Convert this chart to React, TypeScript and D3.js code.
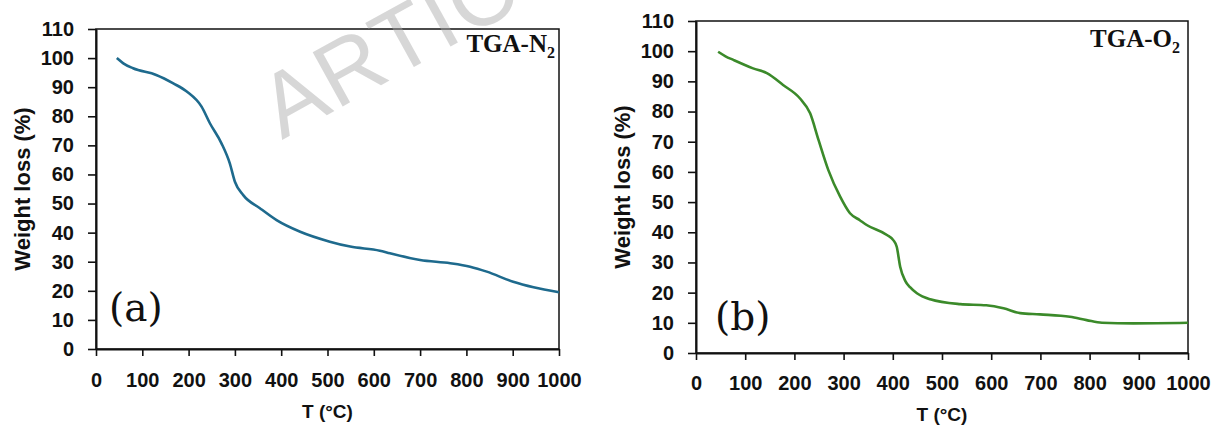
import { useEffect, useRef } from "react";
import * as d3 from "d3";

// TGA in N2 (panel a)
const tempN2 = [45, 59, 80, 130, 167, 196, 228, 246, 271, 289, 300, 318, 354, 390, 441, 505, 549, 613, 635, 700, 765, 808, 844, 901, 945, 1000];
const weightN2 = [100, 98.2, 96.5, 94.2, 91.3, 88.5, 83.3, 77.6, 70.7, 63.8, 57.5, 52.9, 48.4, 44.3, 40.3, 36.9, 35.2, 33.8, 32.9, 30.6, 29.5, 28.3, 26.6, 23.1, 21.2, 19.5];

// TGA in O2 (panel b)
const tempO2 = [45, 60, 76, 116, 144, 177, 211, 232, 249, 269, 293, 313, 333, 347, 388, 401, 408, 415, 425, 435, 449, 476, 537, 590, 625, 659, 699, 760, 794, 825, 889, 1000];
const weightO2 = [99.8, 98.3, 97.1, 94.3, 92.7, 88.8, 84.4, 79.4, 70.6, 60.6, 51.8, 46.3, 44, 42.4, 39.1, 37.4, 35.2, 28.6, 24, 21.8, 19.8, 17.8, 16.2, 15.8, 14.8, 13.2, 12.8, 12.0, 10.9, 10.0, 9.8, 10.0];

const xTicks = [0, 100, 200, 300, 400, 500, 600, 700, 800, 900, 1000];
const yTicks = [0, 10, 20, 30, 40, 50, 60, 70, 80, 90, 100, 110];

const SANS = "'Liberation Sans', Arial, sans-serif";

type PanelProps = {
  temps: number[];
  weights: number[];
  color: string;
  left: number;
  right: number;
  top: number;
  bottom: number;
  letter: string;
  letterPos: [number, number];
  gas: string;
  gasPos: [number, number];
  xTitleY: number;
  xPad: number;
};

function Panel(p: PanelProps) {
  const xRef = useRef<SVGGElement>(null);
  const yRef = useRef<SVGGElement>(null);

  const x = d3.scaleLinear().domain([0, 1000]).range([p.left, p.right]);
  const y = d3.scaleLinear().domain([0, 110]).range([p.bottom, p.top]);

  useEffect(() => {
    const style = (g: d3.Selection<SVGGElement, unknown, null, undefined>) => {
      g.select(".domain").attr("stroke", "#111").attr("stroke-width", 2);
      g.selectAll(".tick line").attr("stroke", "#111").attr("stroke-width", 1.6);
      g.selectAll(".tick text")
        .attr("fill", "#111")
        .attr("font-size", 20)
        .attr("font-weight", "bold")
        .attr("font-family", SANS);
    };
    d3.select(xRef.current!)
      .call(
        d3.axisBottom(x).tickValues(xTicks).tickFormat(d3.format("d")).tickSize(7).tickPadding(p.xPad).tickSizeOuter(0)
      )
      .call(style);
    d3.select(yRef.current!)
      .call(d3.axisLeft(y).tickValues(yTicks).tickFormat(d3.format("d")).tickSize(8).tickPadding(14).tickSizeOuter(0))
      .call(style);
  });

  const line = d3
    .line<number>()
    .x((_, i) => x(p.temps[i]))
    .y((d) => y(d))
    .curve(d3.curveMonotoneX);

  const midX = (p.left + p.right) / 2;
  const midY = (p.top + p.bottom) / 2;

  return (
    <g>
      <rect
        x={p.left}
        y={p.top}
        width={p.right - p.left}
        height={p.bottom - p.top}
        fill="none"
        stroke="#111"
        strokeWidth={1.5}
      />
      <path d={line(p.weights) ?? ""} fill="none" stroke={p.color} strokeWidth={2.6} />
      <g ref={xRef} transform={`translate(0,${p.bottom})`} />
      <g ref={yRef} transform={`translate(${p.left},0)`} />
      <text
        transform={`translate(${p.left - 66},${midY}) rotate(-90)`}
        textAnchor="middle"
        fontFamily={SANS}
        fontWeight="bold"
        fontSize={22}
        fill="#111"
      >
        Weight loss (%)
      </text>
      <text x={midX} y={p.xTitleY} textAnchor="middle" fontFamily={SANS} fontWeight="bold" fontSize={19} fill="#111">
        T (°C)
      </text>
      <text x={p.letterPos[0]} y={p.letterPos[1]} fontFamily="'DejaVu Serif', serif" fontSize={39} fill="#111">
        {p.letter}
      </text>
      <text
        x={p.gasPos[0]}
        y={p.gasPos[1]}
        textAnchor="end"
        fontFamily="'Liberation Serif', 'Times New Roman', serif"
        fontWeight="bold"
        fontSize={25}
        fill="#111"
      >
        TGA-{p.gas}
        <tspan fontSize={16} dy={6}>2</tspan>
      </text>
    </g>
  );
}

export default function App() {
  useEffect(() => {
    document.body.style.margin = "0";
  }, []);

  return (
    <svg width={1214} height={426} style={{ display: "block", background: "#fff" }}>
      <Panel
        temps={tempN2}
        weights={weightN2}
        color="#1e6a8d"
        left={96}
        right={559}
        top={29}
        bottom={349}
        letter="(a)"
        letterPos={[109, 321]}
        gas="N"
        gasPos={[555, 52]}
        xTitleY={418}
        xPad={17}
      />
      <Panel
        temps={tempO2}
        weights={weightO2}
        color="#3b8a2a"
        left={696}
        right={1188}
        top={21}
        bottom={353}
        letter="(b)"
        letterPos={[715, 330]}
        gas="O"
        gasPos={[1180, 47]}
        xTitleY={421}
        xPad={16}
      />
      <text
        transform="translate(282,140) rotate(-29)"
        fontFamily={SANS}
        fontSize={90}
        letterSpacing={2}
        fill="#a8a8a8"
        opacity={0.45}
      >
        ARTIC
      </text>
    </svg>
  );
}
